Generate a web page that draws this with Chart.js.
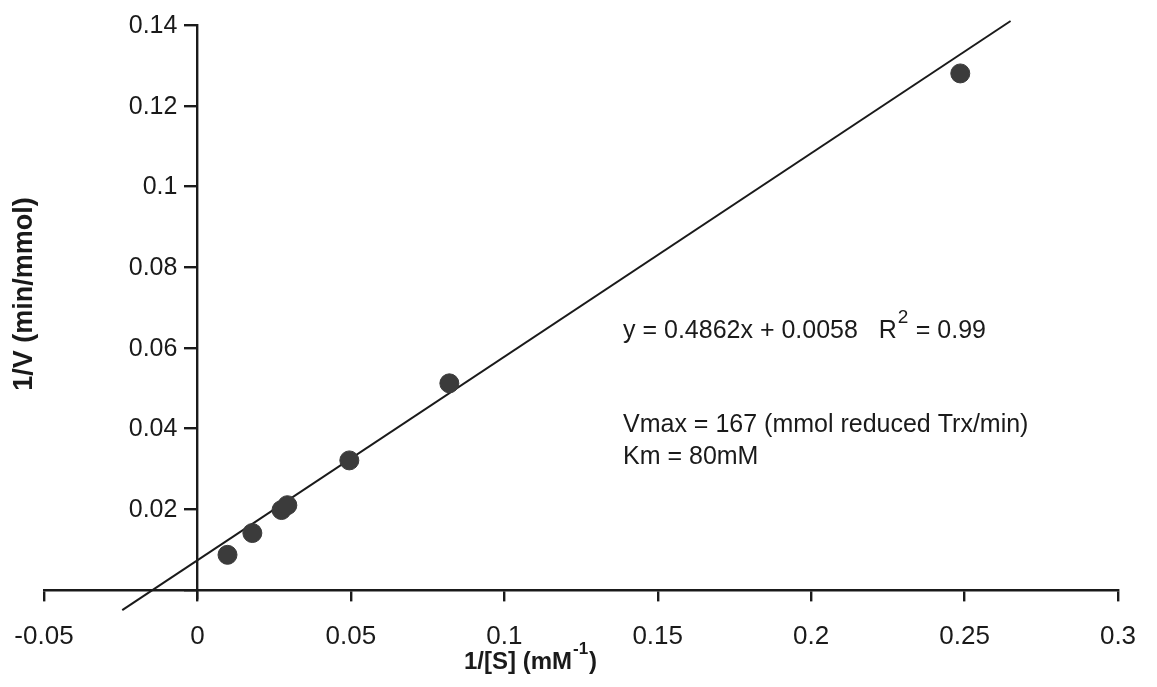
<!DOCTYPE html>
<html>
<head>
<meta charset="utf-8">
<script src="https://cdn.jsdelivr.net/npm/chart.js@4/dist/chart.umd.min.js"></script>
<style>
  html, body { margin: 0; padding: 0; background: #fff; }
  #wrap { width: 1157px; height: 687px; position: relative; }
</style>
</head>
<body>
<div id="wrap"><canvas id="lb"></canvas></div>
<script>
// Lineweaver-Burk plot: 1/[S] vs 1/V
var sInv = [0.0098, 0.0179, 0.0274, 0.0293, 0.0495, 0.0821, 0.2486];
var vInv = [0.0087, 0.0141, 0.0198, 0.0210, 0.0321, 0.0512, 0.1280];

// fitted line end points as drawn
var fitX = [-0.0245, 0.265];
var fitY = [-0.0050, 0.1410];

var xTicks = [-0.05, 0, 0.05, 0.1, 0.15, 0.2, 0.25, 0.3];
var yTicks = [0.02, 0.04, 0.06, 0.08, 0.1, 0.12, 0.14];

var FONT = '"Liberation Sans", Arial, sans-serif';
var INK = '#1a1a1a';

// axes cross at (0,0), so tick labels are placed by hand from the scales
var textPlugin = {
  id: 'lbText',
  afterDraw: function (chart) {
    var ctx = chart.ctx;
    var ys = chart.scales.y, xs = chart.scales.x;
    var axisX = xs.getPixelForValue(0);
    var axisY = ys.getPixelForValue(0);
    ctx.save();
    ctx.fillStyle = INK;

    ctx.font = '25px ' + FONT;
    ctx.textAlign = 'right';
    ctx.textBaseline = 'middle';
    yTicks.forEach(function (v) {
      ctx.fillText(String(v), axisX - 20, ys.getPixelForValue(v) + 1);
    });

    ctx.font = '26px ' + FONT;
    ctx.textAlign = 'center';
    xTicks.forEach(function (v) {
      ctx.fillText(String(v), xs.getPixelForValue(v), axisY + 47);
    });

    ctx.textBaseline = 'alphabetic';

    // y axis title
    ctx.save();
    ctx.translate(32, 294);
    ctx.rotate(-Math.PI / 2);
    ctx.font = 'bold 27px ' + FONT;
    ctx.textAlign = 'center';
    ctx.fillText('1/V (min/mmol)', 0, 0);
    ctx.restore();

    // x axis title with superscript
    ctx.font = 'bold 24px ' + FONT;
    ctx.textAlign = 'left';
    var t1 = '1/[S] (mM';
    var x0 = 464;
    ctx.fillText(t1, x0, 669);
    var w1 = ctx.measureText(t1).width;
    ctx.font = 'bold 17px ' + FONT;
    ctx.fillText('-1', x0 + w1 + 1, 654);
    var w2 = ctx.measureText('-1').width;
    ctx.font = 'bold 24px ' + FONT;
    ctx.fillText(')', x0 + w1 + w2 + 2, 669);

    // equation annotation
    ctx.font = '25px ' + FONT;
    var eq = 'y = 0.4862x + 0.0058   R';
    ctx.fillText(eq, 623, 338);
    var we = ctx.measureText(eq).width;
    ctx.font = '19px ' + FONT;
    ctx.fillText('2', 623 + we + 1, 323);
    ctx.font = '25px ' + FONT;
    ctx.fillText(' = 0.99', 623 + we + 12, 338);

    ctx.fillText('Vmax = 167 (mmol reduced Trx/min)', 623, 432);
    ctx.fillText('Km = 80mM', 623, 464);
    ctx.restore();
  }
};

var pts = sInv.map(function (x, i) { return { x: x, y: vInv[i] }; });
var fit = fitX.map(function (x, i) { return { x: x, y: fitY[i] }; });

new Chart(document.getElementById('lb'), {
  type: 'scatter',
  data: {
    datasets: [{
      label: 'fit',
      data: fit,
      showLine: true,
      borderColor: INK,
      borderWidth: 2,
      pointRadius: 0,
      clip: false,
      order: 2
    }, {
      label: 'data',
      data: pts,
      backgroundColor: '#3b3b3b',
      borderColor: '#3b3b3b',
      pointRadius: 9.5,
      pointStyle: 'circle',
      order: 1
    }]
  },
  options: {
    responsive: true,
    maintainAspectRatio: false,
    animation: false,
    layout: { padding: { left: 44, right: 39, top: 25, bottom: 89 } },
    plugins: {
      legend: { display: false },
      tooltip: { enabled: false }
    },
    scales: {
      x: {
        type: 'linear',
        position: { y: 0 },
        min: -0.05, max: 0.3,
        afterBuildTicks: function (s) { s.ticks = xTicks.map(function (v) { return { value: v }; }); },
        border: { display: true, color: INK, width: 2.4 },
        grid: { drawOnChartArea: false, drawTicks: true, tickLength: 10, color: INK, lineWidth: 2.4 },
        ticks: { display: false }
      },
      y: {
        type: 'linear',
        position: { x: 0 },
        min: -0.002, max: 0.14,
        afterBuildTicks: function (s) { s.ticks = [0].concat(yTicks).map(function (v) { return { value: v }; }); },
        border: { display: true, color: INK, width: 2.4 },
        grid: { drawOnChartArea: false, drawTicks: true, tickLength: 12, color: INK, lineWidth: 2.4 },
        ticks: { display: false }
      }
    }
  },
  plugins: [textPlugin]
});
</script>
</body>
</html>
